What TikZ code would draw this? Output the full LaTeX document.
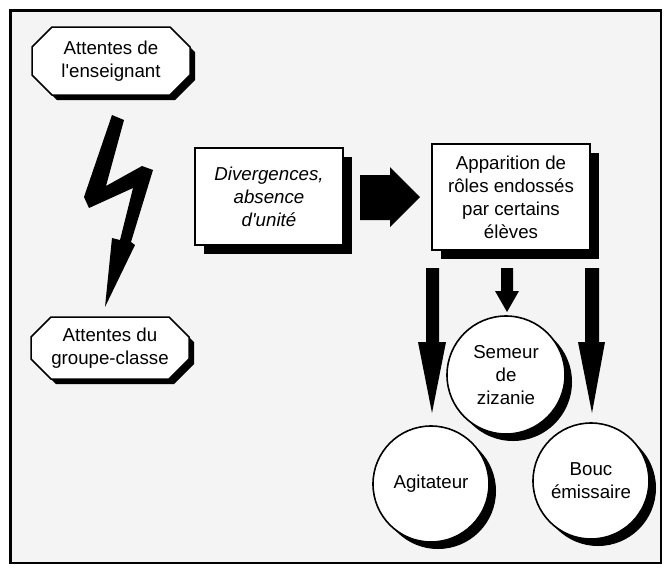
\documentclass[tikz,border=0pt]{standalone}
\usepackage{fontspec}
\setmainfont{Liberation Sans}[Ligatures=TeXOff]
\usetikzlibrary{shadows,calc}
\definecolor{panel}{HTML}{F4F4F4}

% octagonal label: name, centre x, centre y, half height, text
\newcommand\octnode[5]{%
  \path[octo] (#2-79,#3-#4+20) -- (#2-59,#3-#4) -- (#2+59,#3-#4) -- (#2+79,#3-#4+20)
    -- (#2+79,#3+#4-20) -- (#2+59,#3+#4) -- (#2-59,#3+#4) -- (#2-79,#3+#4-20) -- cycle;
  \node[txt] (#1) at (#2,#3) {#5};}

\begin{document}
\begin{tikzpicture}[x=1pt,y=-1pt,
  txt/.style={font=\fontsize{18.7}{23}\selectfont, align=center, inner sep=0pt},
  castshadow/.style={drop shadow={shadow xshift=#1pt, shadow yshift=-#1pt,
      fill=black, opacity=1}},
  octo/.style={draw, line width=1.5pt, fill=white, castshadow=5},
  box/.style={txt, draw, line width=1.6pt, fill=white, rectangle, castshadow=9},
  bubble/.style={txt, draw, line width=1.6pt, fill=white, circle, castshadow=7},
  blockarrow/.style={fill=black}]
\useasboundingbox (0,0) rectangle (669,574);

% panel
\draw[line width=2.4pt, fill=panel] (10.5,10.5) rectangle (661,563);

% the two sets of expectations
\octnode{ens}{111}{61}{34}{Attentes de\\l'enseignant}
\octnode{grp}{110}{348}{31}{Attentes du\\groupe-classe}

% lightning bolt between them
\fill (112,115) -- (124,120) -- (106,186) -- (142,166) -- (153,170) -- (131,242)
  -- (135,245) -- (105,307) -- (112,238) -- (120,240) -- (133,188) -- (89,208)
  -- (84,197) -- cycle;

% boxes
\node[box, minimum width=148pt, minimum height=97pt] (div) at (269,196.5)
  {\itshape Divergences,\\\itshape absence\\\itshape d'unité};
\node[box, minimum width=158pt, minimum height=106pt] (app) at (511,197)
  {Apparition de\\rôles endossés\\par certains\\élèves};

% roles
\node[bubble, minimum size=118pt] (sem) at (506,375) {Semeur\\de\\zizanie};
\node[bubble, minimum size=116pt] (agi) at (431,484) {Agitateur};
\node[bubble, minimum size=116pt] (bouc) at (591,481) {Bouc\\émissaire};

% block arrows
\fill[blockarrow] (360,175) -- (390,175) -- (390,167) -- (420,197) -- (390,227)
  -- (390,220) -- (360,220) -- cycle;
\fill[blockarrow] (426,268) -- (439,268) -- (439,342) -- (446,342) -- (432,413)
  -- (418,342) -- (426,342) -- cycle;
\fill[blockarrow] (501,268) -- (513,268) -- (513,291) -- (519,291) -- (507,312)
  -- (495,291) -- (501,291) -- cycle;
\fill[blockarrow] (585,268) -- (599,268) -- (599,342) -- (605,342) -- (592,413)
  -- (578,342) -- (585,342) -- cycle;
\end{tikzpicture}
\end{document}
